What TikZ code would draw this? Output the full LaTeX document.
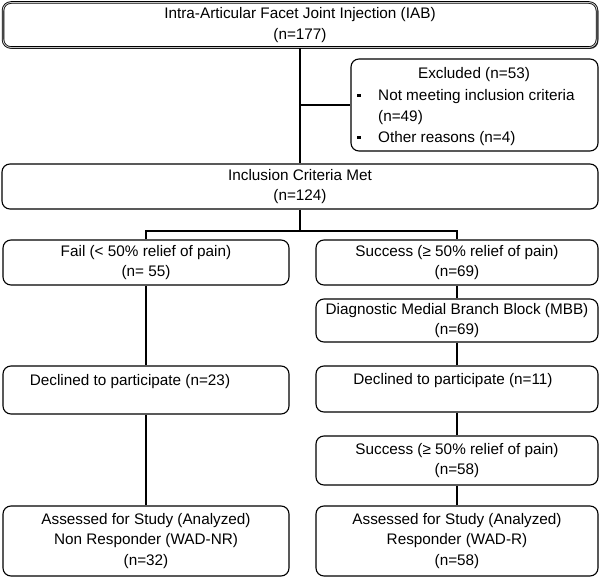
\documentclass[tikz,border=0pt]{standalone}
\usepackage{fontspec}
\setmainfont{Liberation Sans}
\usetikzlibrary{shadows}
\begin{document}
\begin{tikzpicture}[x=1pt,y=-1pt,
  box/.style={draw=black, line width=1.1pt, rounded corners=8pt, align=center, inner sep=0pt,
    font=\fontsize{15.3}{20.5}\selectfont},
  topbox/.style={box, line width=0.8pt, double=gray!45, double distance=0.9pt,
    drop shadow={shadow xshift=1.4pt, shadow yshift=-1.4pt, fill=black!70, opacity=1}},
  txt/.style={inner sep=0pt, font=\fontsize{15.3}{20.5}\selectfont},
  conn/.style={draw=black, line width=2.8pt}]
\useasboundingbox (0,0) rectangle (600,577);

% boxes
\node[topbox, fill=white, minimum width=594pt, minimum height=45pt] (top) at (300,25)
  {Intra-Articular Facet Joint Injection (IAB)\\(n=177)};
\node[box, minimum width=247pt, minimum height=92pt] (excl) at (474.5,105) {};
\node[txt] (exh) at (474,75) {Excluded (n=53)};
\node[txt, anchor=base west] (ex1) at (357,100.5)
  {\makebox[21pt][l]{\rule[3.6pt]{3.3pt}{3.3pt}}Not meeting inclusion criteria};
\node[txt, anchor=base west] (ex2) at (378,122) {(n=49)};
\node[txt, anchor=base west] (ex3) at (357,142.5)
  {\makebox[21pt][l]{\rule[3.6pt]{3.3pt}{3.3pt}}Other reasons (n=4)};

\node[box, minimum width=596pt, minimum height=45pt] (incl) at (300,186.5)
  {Inclusion Criteria Met\\(n=124)};
\node[box, minimum width=286pt, minimum height=45pt] (fail) at (146,262.5)
  {Fail (< 50\% relief of pain)\\(n= 55)};
\node[box, minimum width=282pt, minimum height=45pt] (succ) at (457,262.5)
  {Success (≥ 50\% relief of pain)\\(n=69)};
\node[box, minimum width=282pt, minimum height=43pt] (mbb) at (457,320.5)
  {Diagnostic Medial Branch Block (MBB)\\(n=69)};
\node[box, minimum width=286pt, minimum height=48pt] (decl) at (146,390)
  {Declined to participate (n=23)\hspace*{32pt}\\\mbox{}};
\node[box, minimum width=282pt, minimum height=46pt] (decr) at (457,389)
  {Declined to participate (n=11)\hspace*{8pt}\\\mbox{}};
\node[box, minimum width=282pt, minimum height=49pt] (succ2) at (457,460.5)
  {Success (≥ 50\% relief of pain)\\(n=58)};
\node[box, minimum width=286pt, minimum height=70pt] (assl) at (146,541)
  {Assessed for Study (Analyzed)\\Non Responder (WAD-NR)\\(n=32)};
\node[box, minimum width=282pt, minimum height=70pt] (assr) at (457,541)
  {Assessed for Study (Analyzed)\\Responder (WAD-R)\\(n=58)};

% connectors
\coordinate (split) at (300,231);
\draw[conn] (top.south) -- (incl.north);
\draw[conn] (top.south |- excl.west) -- (excl.west);
\draw[conn] (incl.south) -- (split);
\draw[conn] (fail.north) |- (split) -| (succ.north);
\draw[conn] (fail.south) -- (decl.north);
\draw[conn] (decl.south) -- (assl.north);
\draw[conn] (succ.south) -- (mbb.north);
\draw[conn] (mbb.south) -- (decr.north);
\draw[conn] (decr.south) -- (succ2.north);
\draw[conn] (succ2.south) -- (assr.north);
\end{tikzpicture}
\end{document}
